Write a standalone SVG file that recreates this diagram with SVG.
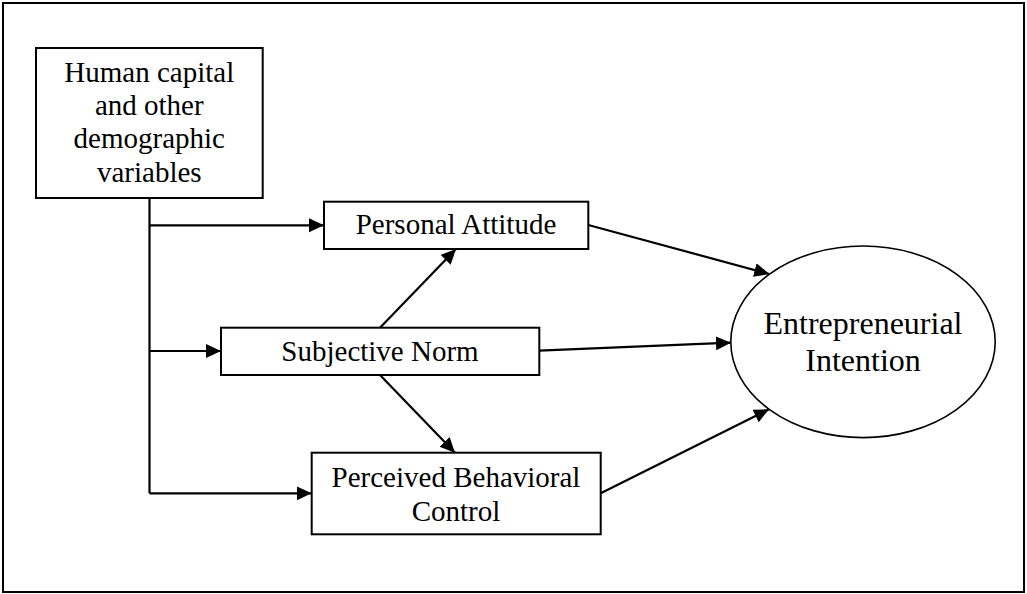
<svg xmlns="http://www.w3.org/2000/svg" width="1027" height="594" viewBox="0 0 1027 594">
<style>
.box{fill:#fff;stroke:#000;stroke-width:2}
.t{font-family:'Liberation Serif',serif;font-size:29px;fill:#000;text-anchor:middle}
.tb{font-size:32px}
.c{fill:none;stroke:#000;stroke-width:2.2}
</style>
<defs>
<marker id="ah" markerUnits="userSpaceOnUse" markerWidth="16" markerHeight="15" refX="15" refY="7" orient="auto">
<path d="M0,0 L15,7 L0,14 z" fill="#000"/>
</marker>
</defs>
<rect x="3" y="3" width="1021" height="589" fill="#fff" stroke="#000" stroke-width="2"/>
<g id="connectors">
<path class="c" d="M149.5,198 V493.3"/>
<path class="c" d="M149.5,225.3 H324" marker-end="url(#ah)"/>
<path class="c" d="M149.5,351 H221" marker-end="url(#ah)"/>
<path class="c" d="M149.5,493.3 H311.7" marker-end="url(#ah)"/>
<path class="c" d="M380,327.7 L456,249" marker-end="url(#ah)"/>
<path class="c" d="M380,375 L455,452.7" marker-end="url(#ah)"/>
<path class="c" d="M588.3,225 L769.3,274" marker-end="url(#ah)"/>
<path class="c" d="M539.3,350.7 L731,342.7" marker-end="url(#ah)"/>
<path class="c" d="M600.7,493.3 L769,409.3" marker-end="url(#ah)"/>
</g>
<g id="human-capital">
<rect class="box" x="36" y="48" width="226.7" height="150"/>
<text class="t" font-family="Liberation Serif" x="149.3" y="81.7">Human capital</text>
<text class="t" font-family="Liberation Serif" x="149.3" y="115">and other</text>
<text class="t" font-family="Liberation Serif" x="149.3" y="148.3">demographic</text>
<text class="t" font-family="Liberation Serif" x="149.3" y="181.7">variables</text>
</g>
<g id="personal-attitude">
<rect class="box" x="324" y="201.7" width="264.3" height="47.3"/>
<text class="t" font-family="Liberation Serif" x="456" y="234">Personal Attitude</text>
</g>
<g id="subjective-norm">
<rect class="box" x="221" y="327.7" width="318.3" height="47.3"/>
<text class="t" font-family="Liberation Serif" x="380" y="361">Subjective Norm</text>
</g>
<g id="perceived-behavioral-control">
<rect class="box" x="311.7" y="452.7" width="289" height="81.6"/>
<text class="t" font-family="Liberation Serif" x="456" y="486.7">Perceived Behavioral</text>
<text class="t" font-family="Liberation Serif" x="456" y="520.7">Control</text>
</g>
<g id="entrepreneurial-intention">
<ellipse cx="863" cy="341.8" rx="132.2" ry="95.8" fill="#fff" stroke="#000" stroke-width="1.6"/>
<text class="t tb" font-family="Liberation Serif" x="863" y="334.3">Entrepreneurial</text>
<text class="t tb" font-family="Liberation Serif" x="863" y="370.7">Intention</text>
</g>
</svg>
